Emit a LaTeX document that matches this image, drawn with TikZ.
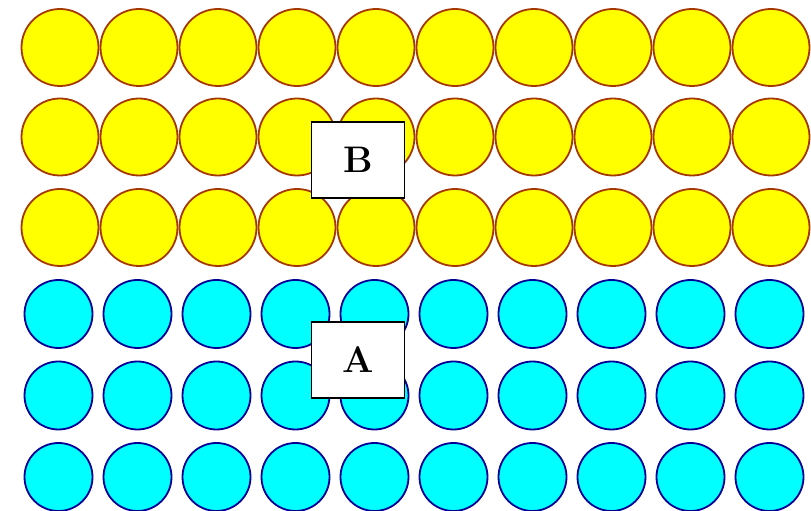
\documentclass[tikz,border=0pt]{standalone}
\usetikzlibrary{positioning}
\definecolor{jaune}{RGB}{255,255,0}
\definecolor{brun}{RGB}{165,55,0}
\definecolor{cyanvif}{RGB}{0,255,255}
\definecolor{marine}{RGB}{0,0,150}
\begin{document}
\begin{tikzpicture}[x=1pt, y=1pt,
    boulejaune/.style={circle, draw=brun, fill=jaune, line width=1.8pt, minimum size=77pt, inner sep=0pt},
    boulecyan/.style={circle, draw=marine, fill=cyanvif, line width=1.8pt, minimum size=68pt, inner sep=0pt},
    etiquette/.style={draw=black, fill=white, line width=1.8pt, minimum width=93pt, minimum height=76pt,
        font=\fontsize{37}{40}\selectfont\bfseries}]

    % Cadre fixe aux dimensions de la figure
    \useasboundingbox (0,0) rectangle (811,511);

    % Pas horizontal entre deux boules voisines
    \def\dx{79}

    % Trois rangees de boules jaunes (phase B), serrees les unes contre les autres
    \foreach \y [count=\j] in {463.5, 374, 283.5} {
        \foreach \i in {1,...,10} {
            \pgfmathsetmacro{\x}{60+(\i-1)*\dx}
            \node[boulejaune] (b\j-\i) at (\x, \y) {};
        }
    }

    % Trois rangees de boules cyan (phase A), plus petites
    \foreach \y [count=\j] in {197, 115.5, 34} {
        \foreach \i in {1,...,10} {
            \pgfmathsetmacro{\x}{58.5+(\i-1)*\dx}
            \node[boulecyan] (a\j-\i) at (\x, \y) {};
        }
    }

    % Etiquettes des deux phases, posees par-dessus les boules
    \node[etiquette] (B) at (358, 351) {B};
    \node[etiquette] (A) at (358, 151) {A};

\end{tikzpicture}
\end{document}
